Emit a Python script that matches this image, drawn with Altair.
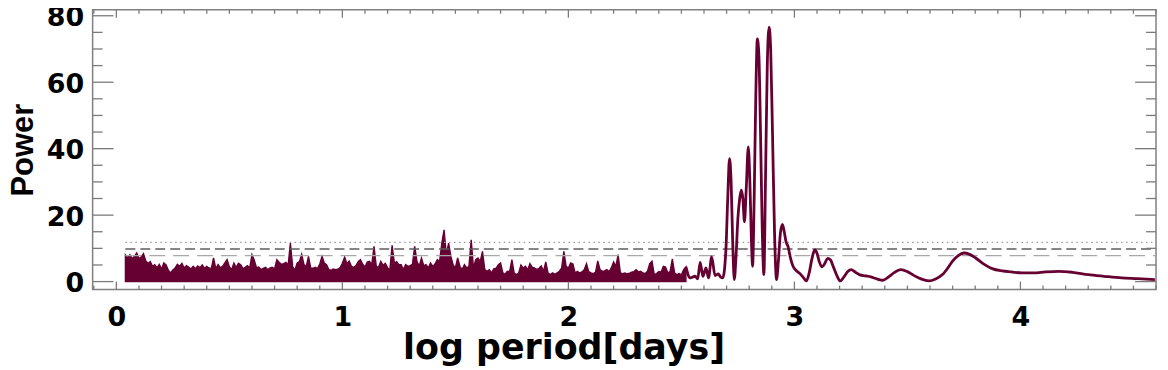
import altair as alt
import pandas as pd

# ---------------- data ----------------
# dense low-period noise: upper envelope sampled every 0.01 in log period, starting at 0.04
noise_start = 0.04
noise_step = 0.01
noise_hi = [
    8.0, 7.2, 8.1, 6.9, 7.6, 8.6, 7.0, 7.4, 8.4, 6.2,   # 0.04
    5.5, 6.0, 4.6, 5.1, 4.2, 5.2, 3.8, 5.6, 5.0, 3.4,   # 0.14
    2.6, 3.5, 4.1, 5.2, 4.6, 5.5, 4.1, 4.8, 4.4, 3.8,   # 0.24
    4.6, 3.9, 4.7, 4.2, 5.0, 4.0, 4.6, 4.1, 3.9, 7.1,   # 0.34
    3.9, 5.1, 4.2, 4.6, 5.6, 6.6, 4.5, 3.6, 5.6, 4.2,   # 0.44
    5.5, 5.1, 3.9, 4.3, 4.8, 4.1, 8.1, 6.5, 4.2, 4.4,   # 0.54
    3.6, 4.0, 4.3, 3.6, 4.1, 4.3, 3.8, 6.6, 5.8, 5.2,   # 0.64
    5.4, 5.8, 5.0, 11.6, 4.5, 3.4, 5.6, 6.0, 8.2, 5.1,  # 0.74
    4.5, 7.6, 4.1, 4.0, 4.3, 3.9, 5.3, 7.6, 5.6, 5.1,   # 0.84
    3.6, 3.4, 3.8, 3.6, 3.7, 4.2, 5.5, 7.4, 5.4, 6.2,   # 0.94
    4.6, 4.3, 4.8, 6.0, 6.6, 5.2, 4.4, 5.9, 6.1, 5.1,   # 1.04
    10.6, 4.6, 4.3, 6.1, 4.9, 5.5, 4.2, 3.5, 10.9, 5.6, # 1.14
    6.0, 5.1, 5.1, 3.6, 5.1, 4.6, 4.8, 5.2, 10.6, 6.1,  # 1.24
    4.6, 7.1, 4.8, 5.1, 4.1, 5.6, 4.6, 5.3, 6.6, 6.0,   # 1.34
    11.6, 15.6, 8.0, 11.6, 7.6, 5.0, 4.1, 7.1, 4.6, 3.6, # 1.44
    5.1, 4.1, 4.6, 12.6, 4.1, 6.6, 7.1, 6.1, 9.1, 3.6,  # 1.54
    3.1, 3.6, 2.6, 3.8, 4.0, 5.1, 5.6, 2.6, 2.2, 3.1,   # 1.64
    3.0, 6.6, 2.6, 2.1, 2.6, 5.0, 4.1, 4.6, 3.6, 5.4,   # 1.74
    4.3, 4.1, 3.6, 4.0, 4.7, 3.1, 5.9, 2.6, 2.1, 2.6,   # 1.84
    2.2, 2.6, 3.1, 4.0, 9.1, 4.6, 4.1, 5.6, 5.3, 2.6,   # 1.94
    3.1, 2.6, 2.9, 3.6, 5.4, 3.0, 2.6, 2.4, 2.8, 6.2,   # 2.04
    3.6, 3.1, 3.2, 3.6, 3.0, 4.1, 5.9, 4.6, 8.1, 2.6,   # 2.14
    2.4, 2.6, 2.3, 2.5, 2.8, 3.0, 3.6, 2.9, 3.1, 2.6,   # 2.24
    2.4, 3.1, 5.4, 6.1, 2.1, 2.4, 3.0, 2.8, 4.6, 4.4,   # 2.34
    2.6, 3.0, 6.8, 2.6, 2.1, 2.4, 2.0, 3.6, 4.4,        # 2.44
]
noise_x = [round(noise_start + noise_step * i, 2) for i in range(len(noise_hi))]

# resolved part of the periodogram (log period, power)
peak_x = [2.520, 2.539, 2.561, 2.572, 2.583, 2.595, 2.609, 2.620, 2.634, 2.649,
          2.663, 2.673, 2.683, 2.697, 2.705, 2.713, 2.720, 2.727, 2.734, 2.742,
          2.750, 2.758, 2.765, 2.772, 2.779, 2.787, 2.796, 2.803, 2.810, 2.815,
          2.822, 2.829, 2.836, 2.843, 2.850, 2.858, 2.865, 2.872, 2.880, 2.888,
          2.895, 2.903, 2.912, 2.921, 2.929, 2.938, 2.947, 2.955, 2.963, 2.972,
          2.983, 2.994, 3.010, 3.024, 3.040, 3.053, 3.065, 3.078, 3.090, 3.100,
          3.110, 3.122, 3.135, 3.147, 3.160, 3.172, 3.188, 3.203, 3.220, 3.236,
          3.251, 3.270, 3.290, 3.315, 3.339, 3.365, 3.391, 3.415, 3.440, 3.471,
          3.500, 3.530, 3.560, 3.596, 3.625, 3.655, 3.680, 3.699, 3.725, 3.750,
          3.775, 3.802, 3.840, 3.875, 3.920, 3.960, 4.007, 4.060, 4.110, 4.169,
          4.230, 4.300, 4.370, 4.448, 4.520, 4.595]
peak_y = [4.4, 1.1, 1.6, 0.8, 5.8, 1.6, 4.1, 1.1, 7.4, 1.8,
          2.3, 1.4, 1.1, 9.6, 25.0, 37.0, 30.0, 12.0, 0.6, 8.0,
          19.0, 25.0, 27.5, 25.0, 18.0, 28.0, 40.5, 30.0, 12.0, 4.6,
          25.0, 55.0, 73.0, 68.0, 45.0, 15.0, 2.1, 30.0, 65.0, 76.6,
          70.0, 45.0, 15.0, 0.6, 6.0, 14.5, 17.2, 15.0, 12.0, 10.5,
          7.0, 4.6, 3.2, 2.4, 1.2, 0.2, 2.5, 7.0, 9.5, 8.5,
          6.0, 4.4, 5.5, 7.0, 6.5, 4.5, 1.8, 0.2, 1.5, 3.0,
          3.6, 2.8, 2.0, 1.7, 1.4, 0.8, 0.4, 1.3, 2.6, 3.6,
          3.0, 1.8, 0.8, 0.2, 0.8, 2.1, 4.2, 6.1, 7.8, 8.6,
          8.2, 7.1, 5.2, 3.9, 3.2, 2.9, 2.6, 2.6, 2.9, 3.1,
          2.8, 2.1, 1.6, 1.1, 0.9, 0.6]

# significance levels (power)
level_values = [11.8, 9.8, 7.8]
level_start = 0.04
level_end = 4.6

# axes
x_labels = [0, 1, 2, 3, 4]
y_labels = [0, 20, 40, 60, 80]
x_minor = [round(-0.1 + 0.1 * i, 1) for i in range(48) if abs(round(-0.1 + 0.1 * i, 1) % 1) > 1e-9]
y_minor = [v for v in range(5, 81, 5) if v % 20 != 0]

# ---------------- chart ----------------
W, H = 1068, 281
LINE = "#660033"
TICK = "#7a7a7a"
LABEL_FONT = "DejaVu Sans"
TITLE_FONT = "Liberation Sans"

xs = alt.Scale(domain=[-0.105, 4.6], nice=False, zero=False)
ys = alt.Scale(domain=[-2.4, 81.8], nice=False, zero=False)

noise_df = pd.DataFrame({"x": noise_x, "y": noise_hi})
peak_df = pd.DataFrame({"x": peak_x, "y": peak_y})

x_axis = alt.Axis(values=x_labels, format="d", ticks=False, tickSize=0, domain=False, grid=False,
                  labelFont=LABEL_FONT, labelFontSize=27, labelFontWeight="bold", labelColor="black",
                  labelPadding=15, labelFlush=False, labelOverlap=False,
                  title="log period[days]", titleFont=LABEL_FONT, titleFontSize=35, titleFontWeight="bold",
                  titleColor="black", titleX=473, titleY=69, titleAlign="center", titleBaseline="alphabetic")
y_axis = alt.Axis(values=y_labels, format="d", ticks=False, tickSize=0, domain=False, grid=False,
                  labelFont=LABEL_FONT, labelFontSize=27, labelFontWeight="bold", labelColor="black",
                  labelPadding=9, labelOffset=2, labelFlush=False, labelOverlap=False,
                  title="Power", titleFont=TITLE_FONT, titleFontSize=31, titleFontWeight="bold",
                  titleColor="black", titleX=-60, titleY=H / 2, titleAngle=270,
                  titleAlign="center", titleBaseline="alphabetic")

noise_area = alt.Chart(noise_df).mark_area(color=LINE, stroke=LINE, strokeWidth=1.4, clip=True).encode(
    x=alt.X("x:Q", scale=xs, axis=x_axis),
    y=alt.Y("y:Q", scale=ys, axis=y_axis),
    y2=alt.datum(0),
)

peak_line = alt.Chart(peak_df).mark_line(color=LINE, strokeWidth=2.8, interpolate="monotone", clip=True).encode(
    x=alt.X("x:Q", scale=xs),
    y=alt.Y("y:Q", scale=ys),
)

level_styles = [("#9a9a9a", [1.5, 3.5]), ("#5e5e5e", [10, 5]), ("#a8a8a8", [16, 8])]
level_layers = []
for val, (col, dash) in zip(level_values, level_styles):
    d = pd.DataFrame({"x": [level_start], "x2": [level_end], "y": [val]})
    level_layers.append(
        alt.Chart(d).mark_rule(color=col, strokeDash=dash, strokeWidth=1.4).encode(
            x=alt.X("x:Q", scale=xs), x2="x2:Q", y=alt.Y("y:Q", scale=ys)
        )
    )

def y_tick_layers(vals, length):
    d = pd.DataFrame({"v": vals})
    base = alt.Chart(d).mark_rule(color=TICK, strokeWidth=1.3)
    return [
        base.encode(y=alt.Y("v:Q", scale=ys), x=alt.value(0), x2=alt.value(length)),
        base.encode(y=alt.Y("v:Q", scale=ys), x=alt.value(W - length), x2=alt.value(W)),
    ]

def x_tick_layers(vals, length):
    d = pd.DataFrame({"v": vals})
    base = alt.Chart(d).mark_rule(color=TICK, strokeWidth=1.3)
    return [
        base.encode(x=alt.X("v:Q", scale=xs), y=alt.value(H), y2=alt.value(H - length)),
        base.encode(x=alt.X("v:Q", scale=xs), y=alt.value(0), y2=alt.value(length)),
    ]

ticks = (y_tick_layers(y_labels, 21) + y_tick_layers(y_minor, 10)
         + x_tick_layers(x_labels, 8) + x_tick_layers(x_minor, 4))

chart = alt.layer(noise_area, *level_layers, peak_line, *ticks).properties(
    width=W, height=H,
    autosize=alt.AutoSizeParams(type="none"),
    padding={"left": 85, "top": 1, "right": 4, "bottom": 78},
).configure_view(stroke="#808080", strokeWidth=1.5)

chart.save("out.html", embed_options={"renderer": "svg", "actions": False})
